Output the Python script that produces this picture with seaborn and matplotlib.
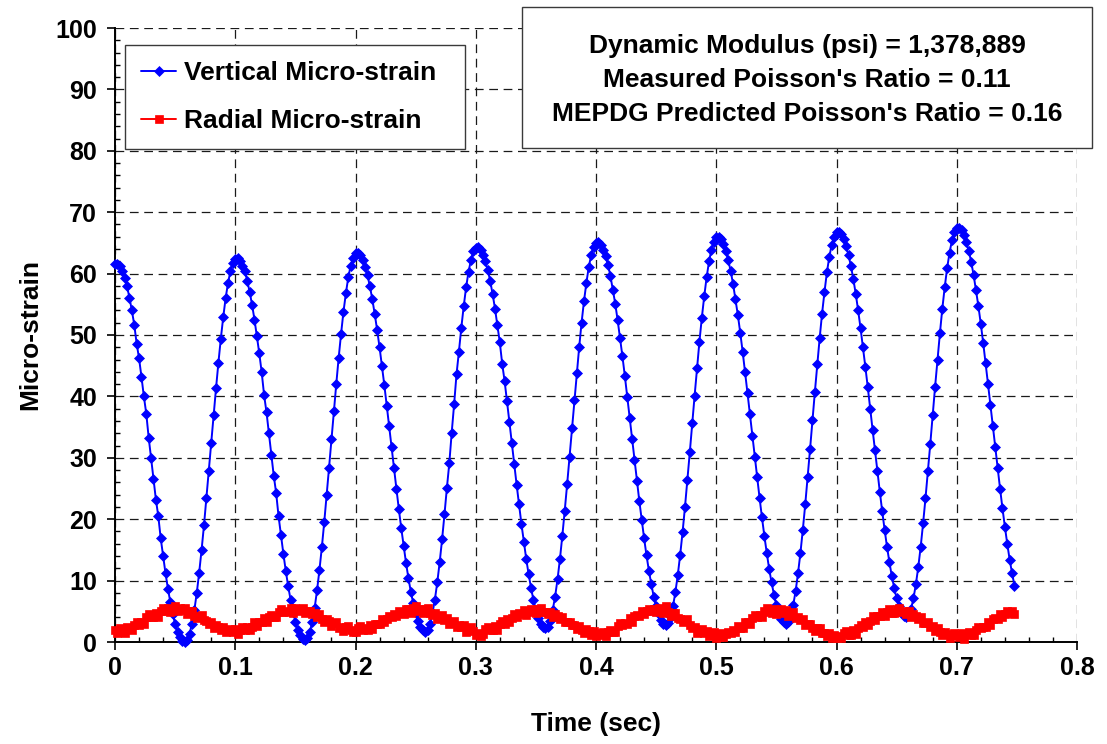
import numpy as np
import pandas as pd
import matplotlib
matplotlib.use("Agg")
import matplotlib.pyplot as plt
from matplotlib.patches import Rectangle
from matplotlib.ticker import MultipleLocator, FixedLocator
import seaborn as sns

# ---------------- data ----------------
SAMPLE_INTERVAL_S = 0.002

series_names = ["Vertical Micro-strain", "Radial Micro-strain"]

vertical_strain = [
    # cycle 0  (0.000 - 0.098 s)
    61.5, 61.6, 61.2, 60.4, 59.3, 57.9, 56.1, 54.0, 51.7, 48.6, 46.2, 43.2, 40.0, 37.2, 33.3,
    30.0, 26.6, 23.2, 20.5, 16.9, 14.0, 11.2, 8.7, 6.5, 4.6, 2.9, 1.7, 0.8, 0.2, 0.0,
    0.3, 1.3, 3.0, 5.2, 8.0, 11.3, 15.0, 19.0, 23.4, 27.8, 32.4, 36.9, 41.3, 45.5, 49.4,
    52.9, 56.0, 58.5, 60.4, 61.8,
    # cycle 1  (0.100 - 0.198 s)
    62.4, 62.5, 62.1, 61.3, 60.4, 58.8, 57.0, 54.9, 52.5, 49.8, 47.0, 43.9, 40.2, 37.4, 34.0,
    30.5, 27.1, 24.3, 20.5, 17.4, 14.4, 11.6, 9.1, 6.9, 4.9, 3.3, 2.0, 1.1, 0.5, 0.3,
    0.6, 1.6, 3.3, 5.5, 8.4, 11.7, 15.4, 19.5, 23.9, 28.4, 33.0, 37.6, 42.0, 46.3, 50.2,
    53.8, 56.8, 59.4, 61.3, 62.6,
    # cycle 2  (0.200 - 0.298 s)
    63.3, 63.4, 63.0, 62.2, 61.1, 59.7, 57.9, 55.8, 53.4, 50.8, 48.0, 44.9, 41.8, 38.5, 35.1,
    31.7, 28.3, 25.0, 21.7, 18.6, 15.7, 12.9, 10.4, 8.2, 6.3, 4.7, 3.4, 2.5, 1.9, 1.7,
    2.0, 3.0, 4.7, 6.9, 9.7, 13.0, 16.7, 20.8, 25.1, 29.1, 34.1, 38.7, 43.6, 47.3, 51.2,
    54.7, 57.8, 60.3, 62.2, 63.6,
    # cycle 3  (0.300 - 0.398 s)
    64.2, 64.3, 63.9, 63.1, 62.0, 60.6, 58.8, 56.7, 54.3, 51.6, 48.8, 45.3, 42.5, 39.2, 35.8,
    32.4, 29.0, 25.6, 22.4, 19.2, 16.3, 13.5, 11.0, 8.8, 6.8, 5.2, 3.9, 3.0, 2.4, 2.2,
    2.5, 3.5, 5.2, 7.4, 10.2, 13.5, 17.3, 21.4, 25.7, 30.2, 34.8, 39.4, 43.8, 48.0, 52.0,
    55.5, 58.5, 61.1, 63.0, 64.4,
    # cycle 4  (0.400 - 0.498 s)
    65.0, 65.1, 64.7, 63.9, 62.8, 61.4, 59.6, 57.4, 55.1, 52.4, 49.5, 46.5, 43.3, 39.9, 36.5,
    33.1, 29.7, 26.3, 23.0, 19.9, 16.9, 14.1, 11.6, 9.4, 7.4, 5.8, 4.5, 3.6, 3.0, 2.8,
    3.1, 4.1, 5.8, 8.1, 10.9, 14.2, 17.9, 22.0, 26.4, 30.9, 35.6, 40.1, 44.6, 48.9, 52.8,
    56.3, 59.4, 62.0, 63.9, 65.2,
    # cycle 5  (0.500 - 0.598 s)
    65.9, 66.0, 65.6, 64.8, 63.7, 62.2, 60.4, 58.3, 55.8, 53.2, 50.3, 47.2, 43.9, 40.5, 37.1,
    33.6, 30.2, 26.8, 23.5, 20.3, 17.3, 14.5, 11.9, 9.7, 7.7, 6.0, 4.7, 3.8, 3.2, 3.0,
    3.3, 4.3, 6.0, 8.3, 11.2, 14.5, 18.3, 22.4, 26.8, 31.4, 36.1, 40.7, 45.2, 49.5, 53.5,
    57.0, 60.2, 62.7, 64.7, 66.0,
    # cycle 6  (0.600 - 0.698 s)
    66.7, 66.8, 66.4, 65.6, 64.5, 63.0, 61.2, 59.1, 56.7, 54.0, 51.1, 48.0, 44.8, 41.5, 38.0,
    34.6, 31.2, 27.8, 24.5, 21.3, 18.3, 15.5, 13.0, 10.7, 8.8, 7.1, 5.8, 4.9, 4.3, 4.1,
    4.4, 5.4, 7.1, 9.4, 12.2, 15.5, 19.3, 23.4, 27.8, 32.3, 37.0, 41.6, 46.0, 50.3, 54.3,
    57.8, 60.9, 63.4, 65.4, 66.7,
    # cycle 7  (0.700 - 0.748 s)
    67.4, 67.5, 67.1, 66.3, 65.2, 63.7, 61.9, 59.8, 57.3, 54.7, 51.8, 48.7, 45.4, 42.0, 38.6,
    35.1, 31.7, 28.3, 25.0, 21.8, 18.8, 16.0, 13.4, 11.2, 9.2,
]

radial_strain = [
    # cycle 0
    1.9, 1.4, 2.2, 1.7, 1.5, 2.4, 2.3, 1.9, 2.8, 3.3, 2.8, 3.2, 3.0, 4.0, 4.5, 4.0, 4.0, 4.7, 4.1, 5.0,
    5.5, 5.0, 5.6, 4.9, 5.4, 5.9, 5.1, 5.5, 5.2, 5.6, 4.6, 5.0, 5.0, 4.3, 3.9, 4.3, 4.4, 3.6, 3.4, 2.9,
    3.3, 2.3, 2.8, 2.5, 2.0, 2.5, 1.6, 1.8, 2.1, 1.6,
    # cycle 1
    2.1, 1.3, 2.0, 2.4, 1.9, 2.5, 2.0, 2.5, 3.2, 2.6, 3.3, 3.2, 3.9, 3.2, 4.0, 4.4, 4.1, 4.1, 4.9, 5.3,
    4.9, 5.1, 4.9, 5.5, 4.8, 5.5, 5.4, 5.0, 5.6, 4.8, 5.0, 5.1, 4.6, 4.7, 4.0, 4.5, 3.8, 3.3, 3.8, 3.4,
    2.6, 3.1, 3.2, 2.3, 2.4, 1.8, 2.4, 2.6, 1.9, 1.6,
    # cycle 2
    1.6, 2.2, 2.6, 2.0, 2.2, 2.0, 2.8, 2.1, 3.0, 3.0, 2.9, 3.7, 3.3, 3.8, 4.3, 4.1, 4.6, 4.2, 5.1, 4.8,
    4.6, 5.4, 5.3, 4.8, 5.5, 5.8, 5.1, 5.3, 4.8, 5.4, 5.6, 4.8, 4.4, 4.7, 3.8, 4.3, 4.4, 3.6, 3.9, 2.9,
    3.1, 3.5, 2.5, 2.8, 2.4, 2.7, 1.7, 2.2, 2.4, 1.8,
    # cycle 3
    1.2, 1.5, 0.9, 1.3, 2.1, 2.5, 2.0, 1.9, 2.6, 2.0, 2.9, 3.4, 3.0, 3.8, 3.3, 3.9, 4.6, 4.0, 4.7, 4.5,
    5.2, 4.4, 5.1, 5.3, 4.9, 4.7, 5.3, 5.5, 4.9, 4.9, 4.5, 4.9, 4.0, 4.5, 4.2, 3.7, 4.1, 3.2, 3.2, 3.3,
    2.7, 2.8, 2.1, 2.6, 2.0, 1.5, 2.1, 1.8, 1.2, 1.8,
    # cycle 4
    0.9, 1.4, 1.2, 1.7, 1.0, 1.7, 2.0, 1.7, 1.7, 2.6, 3.1, 2.7, 3.1, 3.0, 3.9, 3.3, 4.3, 4.4, 4.3, 5.1,
    4.5, 5.0, 5.4, 5.0, 5.4, 4.9, 5.6, 5.0, 4.7, 5.9, 4.9, 4.2, 4.7, 4.8, 3.9, 3.8, 3.2, 3.6, 3.7, 2.7,
    2.3, 2.5, 1.5, 2.0, 2.1, 1.4, 1.8, 0.9, 1.3, 1.7,
    # cycle 5
    0.6, 0.8, 1.5, 0.8, 1.3, 1.7, 1.5, 1.9, 1.7, 2.6, 2.3, 2.3, 3.2, 3.3, 2.9, 3.9, 4.4, 4.0, 4.4, 4.1,
    5.0, 5.5, 4.9, 4.7, 5.3, 4.5, 5.2, 5.4, 4.8, 5.2, 4.3, 4.5, 4.9, 3.9, 4.1, 3.6, 3.8, 2.7, 3.0, 3.0,
    2.2, 1.8, 2.2, 2.2, 1.5, 1.4, 1.0, 1.4, 0.6, 1.2,
    # cycle 6
    0.7, 0.9, 0.6, 1.4, 1.8, 1.2, 1.2, 1.9, 1.3, 2.2, 2.8, 2.4, 3.2, 2.7, 3.4, 4.2, 3.6, 4.3, 4.2, 4.9,
    4.2, 4.9, 5.3, 4.8, 4.7, 5.3, 5.6, 4.9, 5.0, 4.5, 5.0, 4.0, 4.5, 4.2, 3.7, 4.1, 3.1, 3.1, 3.2, 2.5,
    2.6, 1.8, 2.3, 1.6, 1.1, 1.6, 1.3, 0.6, 1.2, 1.4,
    # cycle 7
    1.1, 0.8, 1.4, 0.5, 1.3, 1.6, 1.2, 1.2, 2.0, 2.5, 2.2, 2.5, 2.5, 3.3, 2.8, 3.7, 3.9, 3.8, 4.6, 4.1,
    4.5, 5.0, 4.7, 5.0, 4.6,
]

x_ticks = [0.0, 0.1, 0.2, 0.3, 0.4, 0.5, 0.6, 0.7, 0.8]
x_tick_labels = ["0", "0.1", "0.2", "0.3", "0.4", "0.5", "0.6", "0.7", "0.8"]
y_ticks = [0, 10, 20, 30, 40, 50, 60, 70, 80, 90, 100]
y_tick_labels = [str(v) for v in y_ticks]

annotation_lines = [
    "Dynamic Modulus (psi) = 1,378,889",
    "Measured Poisson's Ratio = 0.11",
    "MEPDG Predicted Poisson's Ratio = 0.16",
]

x_label = "Time (sec)"
y_label = "Micro-strain"

# ---------------- styling ----------------
sns.set_style("white", {"axes.edgecolor": "black", "text.color": "black",
                        "axes.labelcolor": "black", "xtick.color": "black",
                        "ytick.color": "black"})
plt.rcParams["font.family"] = ["Liberation Sans", "DejaVu Sans"]
plt.rcParams["font.weight"] = "bold"
plt.rcParams["axes.labelweight"] = "bold"

time_s = np.round(np.arange(len(vertical_strain)) * SAMPLE_INTERVAL_S, 4)
df_v = pd.DataFrame({"time": time_s, "strain": vertical_strain})
df_r = pd.DataFrame({"time": time_s, "strain": radial_strain})

fig = plt.figure(figsize=(11.07, 7.44), dpi=100)
ax = fig.add_axes([115 / 1107, 1 - 642 / 744, (1077 - 115) / 1107, (642 - 28) / 744])

sns.lineplot(data=df_v, x="time", y="strain", ax=ax, color="#0000FF", linewidth=1.4,
             marker="D", markersize=5.2, markeredgecolor="#0000FF", markeredgewidth=0.5,
             label=series_names[0], zorder=3, clip_on=False)
sns.lineplot(data=df_r, x="time", y="strain", ax=ax, color="#FF0000", linewidth=1.4,
             marker="s", markersize=6.2, markeredgecolor="#FF0000", markeredgewidth=0.5,
             label=series_names[1], zorder=4, clip_on=False)

ax.set_xlim(0, 0.8)
ax.set_ylim(0, 100)
ax.xaxis.set_major_locator(FixedLocator(x_ticks))
ax.set_xticklabels(x_tick_labels)
ax.yaxis.set_major_locator(FixedLocator(y_ticks))
ax.set_yticklabels(y_tick_labels)
ax.xaxis.set_minor_locator(MultipleLocator(0.02))
ax.yaxis.set_minor_locator(MultipleLocator(2))

ax.tick_params(which="major", direction="out", length=6, width=1.2,
               labelsize=18, bottom=True, left=True, color="black")
ax.tick_params(axis="x", which="major", pad=4)
ax.tick_params(axis="y", which="major", pad=7)
ax.tick_params(which="minor", direction="in", length=3.8, width=1.0,
               bottom=True, left=True, color="black")

ax.grid(True, which="major", color="#1a1a1a", linestyle=(0, (7, 4.5)), linewidth=0.9)
ax.set_axisbelow(True)

for side in ("top", "right"):
    ax.spines[side].set_visible(False)
for side in ("left", "bottom"):
    ax.spines[side].set_color("black")
    ax.spines[side].set_linewidth(1.4)

ax.set_xlabel(x_label, fontsize=19, fontweight="bold", labelpad=23)
ax.set_ylabel(y_label, fontsize=19, fontweight="bold", labelpad=9)

# legend box
leg_x0 = (125 - 115) / 962
leg_x1 = (465 - 115) / 962
leg_top = (642 - 45) / 614
leg_bot = (642 - 146) / 614
leg = ax.legend(loc="upper left",
                bbox_to_anchor=(leg_x0, leg_bot, leg_x1 - leg_x0, leg_top - leg_bot),
                mode="expand", borderaxespad=0, fontsize=19, frameon=True,
                fancybox=False, framealpha=1, edgecolor="#3a3a3a",
                handlelength=1.35, handletextpad=0.3, labelspacing=0.92,
                borderpad=0.6, numpoints=1)
leg.get_frame().set_linewidth(1.0)
for t in leg.get_texts():
    t.set_fontweight("bold")

# annotation box
box = Rectangle((522 / 1107, 1 - 148 / 744), (1092 - 522) / 1107, (148 - 7) / 744,
                transform=fig.transFigure, facecolor="white", edgecolor="#3a3a3a",
                linewidth=1.0, zorder=10)
fig.add_artist(box)
baselines_px = [53, 87, 121]
for line, yb in zip(annotation_lines, baselines_px):
    fig.text(807 / 1107, 1 - yb / 744, line, ha="center", va="baseline",
             fontsize=19, fontweight="bold", color="black", zorder=11)

fig.savefig("out.png", dpi=100)
